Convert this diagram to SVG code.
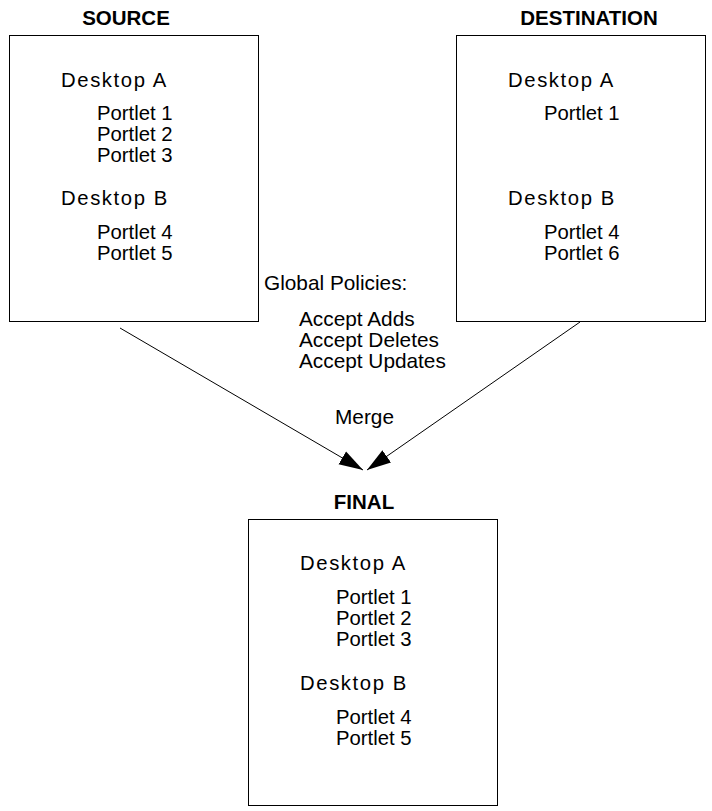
<svg xmlns="http://www.w3.org/2000/svg" width="712" height="811" viewBox="0 0 712 811">
<style>
text{font-family:"Liberation Sans",Arial,sans-serif;font-size:20.3px;fill:#000}
.t{font-weight:bold;text-anchor:middle;font-size:20.5px}
.d{letter-spacing:1.6px}
.p{font-size:20.8px}
.box{fill:#fff;stroke:#000;stroke-width:1}
.c{stroke:#000;stroke-width:1;fill:none}
</style>
<defs>
<marker id="ah" markerWidth="26" markerHeight="18" refX="24" refY="9" orient="auto" markerUnits="userSpaceOnUse">
<path d="M0,1.5 L24,9 L0,16.5 Z" fill="#000"/>
</marker>
</defs>
<rect width="712" height="811" fill="#fff"/>
<g id="source">
<text class="t" x="126" y="25">SOURCE</text>
<rect class="box" x="9.5" y="35.5" width="249" height="286"/>
<text class="d" x="61" y="87">Desktop A</text>
<text x="97" y="120">Portlet 1</text>
<text x="97" y="141">Portlet 2</text>
<text x="97" y="162">Portlet 3</text>
<text class="d" x="61" y="205">Desktop B</text>
<text x="97" y="239">Portlet 4</text>
<text x="97" y="260">Portlet 5</text>
</g>
<g id="destination">
<text class="t" x="589" y="25">DESTINATION</text>
<rect class="box" x="456.5" y="35.5" width="249" height="286"/>
<text class="d" x="508" y="87">Desktop A</text>
<text x="544" y="120">Portlet 1</text>
<text class="d" x="508" y="205">Desktop B</text>
<text x="544" y="239">Portlet 4</text>
<text x="544" y="260">Portlet 6</text>
</g>
<g id="final">
<text class="t" x="364" y="509">FINAL</text>
<rect class="box" x="248.5" y="519.5" width="249" height="286"/>
<text class="d" x="300" y="570">Desktop A</text>
<text x="336" y="604">Portlet 1</text>
<text x="336" y="625">Portlet 2</text>
<text x="336" y="646">Portlet 3</text>
<text class="d" x="300" y="690">Desktop B</text>
<text x="336" y="724">Portlet 4</text>
<text x="336" y="745">Portlet 5</text>
</g>
<g id="policies">
<text class="p" x="264" y="290">Global Policies:</text>
<text class="p" x="299" y="326">Accept Adds</text>
<text class="p" x="299" y="347">Accept Deletes</text>
<text class="p" x="299" y="368">Accept Updates</text>
<text class="p" x="335" y="424">Merge</text>
</g>
<g id="connectors">
<line class="c" x1="120" y1="328" x2="363" y2="470" marker-end="url(#ah)"/>
<line class="c" x1="580" y1="322" x2="367" y2="470" marker-end="url(#ah)"/>
</g>
</svg>
